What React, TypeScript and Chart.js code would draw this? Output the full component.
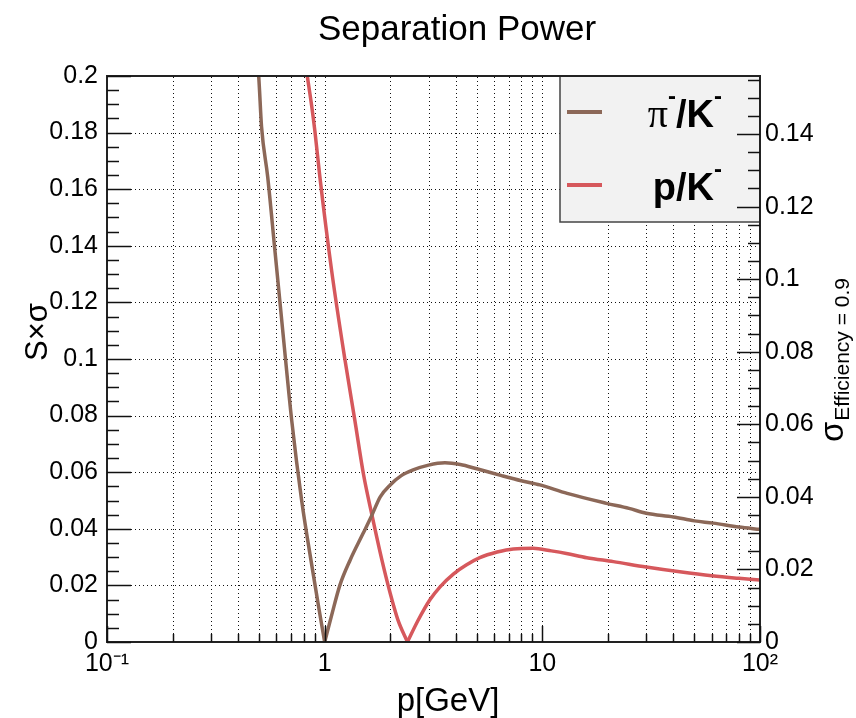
import React, { useEffect, useRef } from "react";
import { Chart, registerables } from "chart.js";

Chart.register(...registerables);

// ---- data ----
const pionKaonMomentum = [
  0.488, 0.4976, 0.5128, 0.5473, 0.5905, 0.6414, 0.7054, 0.7834, 0.88, 0.94, 1.0,
  1.077, 1.175, 1.31, 1.5, 1.65, 1.8, 2.0, 2.25, 2.55, 3.0, 3.57, 4.2, 5.0, 6.5, 8,
  9.75, 13, 19.7, 25, 30, 40, 50, 61, 80, 100,
];
const pionKaonSeparation = [
  0.206, 0.2, 0.1821, 0.1644, 0.1385, 0.1102, 0.0784, 0.0502, 0.0254, 0.012, 0.0,
  0.0095, 0.0201, 0.029, 0.0383, 0.0449, 0.0513, 0.0555, 0.0588, 0.0608, 0.0625, 0.0633,
  0.0627, 0.0612, 0.0588, 0.057, 0.0555, 0.0525, 0.049, 0.0472, 0.0455, 0.0442, 0.0428,
  0.042, 0.0406, 0.0398,
];
const protonKaonMomentum = [
  0.812, 0.8319, 0.8714, 0.9019, 0.9504, 1.0758, 1.2378, 1.3756, 1.51, 1.6487, 1.8316,
  2.0, 2.17, 2.4, 2.68, 3.05, 3.39, 3.9, 4.47, 5.16, 6.2, 7.35, 9.07, 11, 12.9, 16, 21.2,
  30, 42.8, 60, 80, 100,
];
const protonKaonSeparation = [
  0.2055, 0.2, 0.1895, 0.1805, 0.1644, 0.1314, 0.1, 0.0784, 0.059, 0.0449, 0.029,
  0.0172, 0.0078, 0.0, 0.0075, 0.015, 0.0195, 0.024, 0.0272, 0.0298, 0.0318, 0.0329,
  0.0331, 0.0322, 0.0313, 0.0298, 0.0284, 0.0265, 0.0248, 0.0234, 0.0225, 0.0219,
];

const seriesLabels = ["π⁻/K⁻", "p/K⁻"];
const seriesColors = ["#8c6858", "#d6585c"];

// ---- axes ----
const xMin = 0.1;
const xMax = 100;
const xTickValues = [
  0.1, 0.2, 0.3, 0.4, 0.5, 0.6, 0.7, 0.8, 0.9,
  1, 2, 3, 4, 5, 6, 7, 8, 9,
  10, 20, 30, 40, 50, 60, 70, 80, 90, 100,
];
const xDecadeValues = [0.1, 1, 10, 100];
const xDecadeLabels = ["10⁻¹", "1", "10", "10²"];
const leftMax = 0.2;
const leftTickValues = [0, 0.02, 0.04, 0.06, 0.08, 0.1, 0.12, 0.14, 0.16, 0.18, 0.2];
const rightMax = 0.156;
const rightTickValues = [0, 0.02, 0.04, 0.06, 0.08, 0.1, 0.12, 0.14];
const minorPerMajor = 4;

const titleText = "Separation Power";
const xTitle = "p[GeV]";
const yTitle = "S×σ";
const y2TitleMain = "σ";
const y2TitleSub = "Efficiency = 0.9";

const SANS = "'Liberation Sans', Arial, Helvetica, sans-serif";
const SERIF = "'Liberation Serif', 'DejaVu Serif', serif";

function fmt(v: number): string {
  if (Math.abs(v) < 1e-9) return "0";
  return String(+v.toFixed(3));
}

function minorValues(majors: number[], max: number): number[] {
  const out: number[] = [];
  const step = majors[1] - majors[0];
  const sub = step / minorPerMajor;
  for (let v = 0; v <= max + 1e-9; v += sub) {
    const isMajor = majors.some((m) => Math.abs(m - v) < 1e-9);
    if (!isMajor) out.push(v);
  }
  return out;
}

// split a V-shaped curve at its zero so each branch is smoothed on its own
function branches(xs: number[], ys: number[]) {
  let k = 0;
  for (let i = 1; i < ys.length; i++) if (ys[i] < ys[k]) k = i;
  const pts = xs.map((x, i) => ({ x, y: ys[i] }));
  return [pts.slice(0, k + 1), pts.slice(k)];
}

const rootStylePlugin = {
  id: "rootStyle",
  beforeDatasetsDraw(chart: any) {
    const { ctx, chartArea: a, scales } = chart;
    ctx.save();
    ctx.beginPath();
    ctx.rect(a.left, a.top, a.right - a.left, a.bottom - a.top);
    ctx.clip();
    ctx.setLineDash([1, 3]);
    ctx.strokeStyle = "#111";
    ctx.lineWidth = 1;
    for (const v of xTickValues) {
      if (v <= xMin || v >= xMax) continue;
      const x = Math.round(scales.x.getPixelForValue(v)) + 0.5;
      ctx.beginPath();
      ctx.moveTo(x, a.bottom);
      ctx.lineTo(x, a.top);
      ctx.stroke();
    }
    for (const v of leftTickValues) {
      if (v <= 0 || v >= leftMax) continue;
      const y = Math.round(scales.y.getPixelForValue(v)) + 0.5;
      ctx.beginPath();
      ctx.moveTo(a.left, y);
      ctx.lineTo(a.right, y);
      ctx.stroke();
    }
    ctx.restore();
  },
  afterDatasetsDraw(chart: any) {
    const { ctx, chartArea: a, scales } = chart;
    ctx.save();

    // legend box
    const lx0 = a.right - 200;
    const ly0 = a.top;
    const lx1 = a.right;
    const ly1 = a.top + 146;
    ctx.fillStyle = "#f2f2f2";
    ctx.fillRect(lx0, ly0, lx1 - lx0, ly1 - ly0);
    ctx.strokeStyle = "#444";
    ctx.lineWidth = 1.5;
    ctx.strokeRect(lx0, ly0, lx1 - lx0, ly1 - ly0);

    const entryY = [ly0 + 36, ly0 + 109];
    const baseY = [ly0 + 51, ly0 + 124];
    seriesLabels.forEach((label, i) => {
      ctx.strokeStyle = seriesColors[i];
      ctx.lineWidth = 4;
      ctx.beginPath();
      ctx.moveTo(lx0 + 7, entryY[i]);
      ctx.lineTo(lx0 + 42, entryY[i]);
      ctx.stroke();
      const pieces: { t: string; font: string; dy: number }[] = [];
      for (const ch of label) {
        if (ch === "⁻") pieces.push({ t: "-", font: `bold 24px ${SANS}`, dy: -23 });
        else if (ch === "π") pieces.push({ t: "π", font: `40px ${SERIF}`, dy: 0 });
        else pieces.push({ t: ch, font: `bold 38px ${SANS}`, dy: 0 });
      }
      let total = 0;
      for (const p of pieces) {
        ctx.font = p.font;
        total += ctx.measureText(p.t).width;
      }
      let x = lx0 + 162 - total;
      ctx.fillStyle = "#000";
      ctx.textBaseline = "alphabetic";
      ctx.textAlign = "left";
      for (const p of pieces) {
        ctx.font = p.font;
        ctx.fillText(p.t, x, baseY[i] + p.dy);
        x += ctx.measureText(p.t).width;
      }
    });

    // frame
    ctx.strokeStyle = "#222";
    ctx.lineWidth = 2;
    ctx.setLineDash([]);
    ctx.strokeRect(a.left, a.top, a.right - a.left, a.bottom - a.top);

    // inward tick marks
    ctx.lineWidth = 1.5;
    ctx.strokeStyle = "#111";
    const tick = (x0: number, y0: number, x1: number, y1: number) => {
      ctx.beginPath();
      ctx.moveTo(x0, y0);
      ctx.lineTo(x1, y1);
      ctx.stroke();
    };
    for (const v of leftTickValues) {
      const y = Math.round(scales.y.getPixelForValue(v)) + 0.5;
      tick(a.left, y, a.left + 24, y);
    }
    for (const v of minorValues(leftTickValues, leftMax)) {
      const y = Math.round(scales.y.getPixelForValue(v)) + 0.5;
      tick(a.left, y, a.left + 12, y);
    }
    for (const v of rightTickValues) {
      const y = Math.round(scales.y2.getPixelForValue(v)) + 0.5;
      tick(a.right, y, a.right - 23, y);
    }
    for (const v of minorValues(rightTickValues, rightMax)) {
      const y = Math.round(scales.y2.getPixelForValue(v)) + 0.5;
      tick(a.right, y, a.right - 12, y);
    }
    for (const v of xTickValues) {
      const x = Math.round(scales.x.getPixelForValue(v)) + 0.5;
      const major = xDecadeValues.some((d) => Math.abs(d - v) < 1e-9);
      tick(x, a.bottom, x, a.bottom - (major ? 16 : 8));
    }

    // titles
    ctx.fillStyle = "#000";
    ctx.textAlign = "center";
    ctx.textBaseline = "alphabetic";
    ctx.font = `35px ${SANS}`;
    ctx.fillText(titleText, 457, 40);
    ctx.font = `33px ${SANS}`;
    ctx.fillText(xTitle, 448, 711);

    ctx.save();
    ctx.translate(47, 332);
    ctx.rotate(-Math.PI / 2);
    ctx.font = `31px ${SANS}`;
    ctx.fillText(yTitle, 0, 0);
    ctx.restore();

    ctx.save();
    ctx.translate(843, 442);
    ctx.rotate(-Math.PI / 2);
    ctx.textAlign = "left";
    ctx.font = `33px ${SANS}`;
    ctx.fillText(y2TitleMain, 0, 0);
    const w = ctx.measureText(y2TitleMain).width;
    ctx.font = `21px ${SANS}`;
    ctx.fillText(y2TitleSub, w + 1, 6);
    ctx.restore();

    ctx.restore();
  },
};

export default function App() {
  const canvasRef = useRef<HTMLCanvasElement | null>(null);

  useEffect(() => {
    const canvas = canvasRef.current;
    if (!canvas) return;
    const tickFont = { family: SANS, size: 25 };
    const pk = branches(pionKaonMomentum, pionKaonSeparation);
    const prk = branches(protonKaonMomentum, protonKaonSeparation);
    const lineStyle = (color: string) => ({
      borderColor: color,
      backgroundColor: color,
      borderWidth: 3.5,
      showLine: true,
      pointRadius: 0,
      cubicInterpolationMode: "monotone",
      borderJoinStyle: "miter",
      yAxisID: "y",
      clip: { left: 0, top: 0, right: 0, bottom: 8 },
    });
    const chart = new Chart(canvas, {
      type: "scatter",
      data: {
        datasets: [
          { label: seriesLabels[0], data: pk[0], ...lineStyle(seriesColors[0]) },
          { label: seriesLabels[0], data: pk[1], ...lineStyle(seriesColors[0]) },
          { label: seriesLabels[1], data: prk[0], ...lineStyle(seriesColors[1]) },
          { label: seriesLabels[1], data: prk[1], ...lineStyle(seriesColors[1]) },
        ] as any,
      },
      options: {
        animation: false,
        responsive: false,
        maintainAspectRatio: false,
        layout: { padding: { top: 76, left: 0, right: 0, bottom: 0 } },
        plugins: {
          legend: { display: false },
          tooltip: { enabled: false },
          title: { display: false },
        },
        scales: {
          x: {
            type: "logarithmic",
            position: "bottom",
            min: xMin,
            max: xMax,
            afterBuildTicks: (s: any) => {
              s.ticks = xTickValues.map((v) => ({ value: v }));
            },
            afterFit: (s: any) => {
              s.height = 76;
            },
            grid: { display: false, drawTicks: false },
            border: { display: false },
            ticks: {
              autoSkip: false,
              maxRotation: 0,
              minRotation: 0,
              padding: 7,
              color: "#000",
              font: tickFont,
              callback: (v: any) => {
                const idx = xDecadeValues.findIndex((d) => Math.abs(d - Number(v)) < 1e-9);
                return idx >= 0 ? xDecadeLabels[idx] : "";
              },
            },
          },
          y: {
            type: "linear",
            position: "left",
            min: 0,
            max: leftMax,
            afterBuildTicks: (s: any) => {
              s.ticks = leftTickValues.map((v) => ({ value: v }));
            },
            afterFit: (s: any) => {
              s.width = 107;
            },
            grid: { display: false, drawTicks: false },
            border: { display: false },
            ticks: {
              padding: 9,
              color: "#000",
              font: tickFont,
              callback: (v: any) => fmt(Number(v)),
            },
          },
          y2: {
            type: "linear",
            position: "right",
            display: true,
            min: 0,
            max: rightMax,
            afterBuildTicks: (s: any) => {
              s.ticks = rightTickValues.map((v) => ({ value: v }));
            },
            afterFit: (s: any) => {
              s.width = 96;
            },
            grid: { display: false, drawTicks: false },
            border: { display: false },
            ticks: {
              padding: 5,
              color: "#000",
              font: tickFont,
              callback: (v: any) => fmt(Number(v)),
            },
          },
        },
      } as any,
      plugins: [rootStylePlugin],
    });
    return () => chart.destroy();
  }, []);

  return (
    <div
      style={{
        position: "fixed",
        left: 0,
        top: 0,
        width: 856,
        height: 718,
        background: "#fff",
      }}
    >
      <canvas ref={canvasRef} width={856} height={718} style={{ display: "block" }} />
    </div>
  );
}
